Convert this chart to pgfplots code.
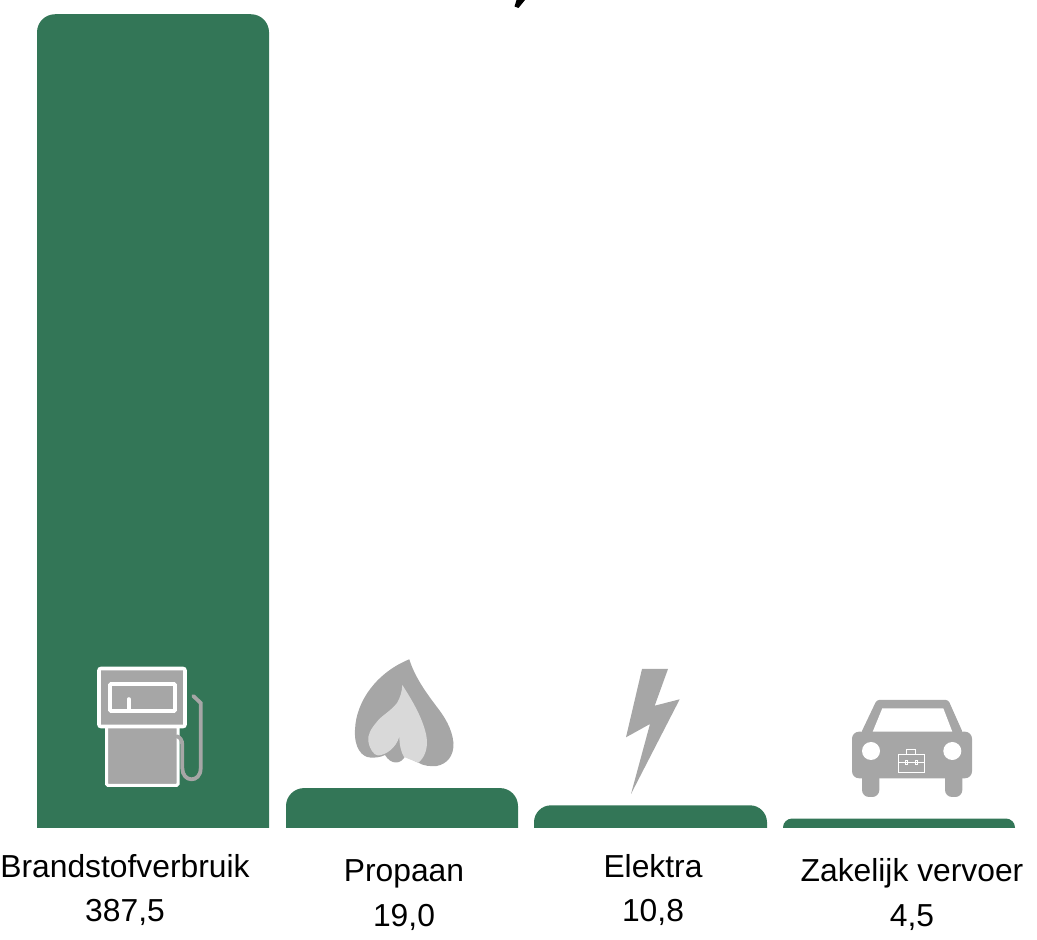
\documentclass[border=0pt]{standalone}
\usepackage{pgfplots}
\pgfplotsset{compat=1.18}
\usepackage{fontspec}
\setmainfont{Liberation Sans}
\definecolor{bargreen}{RGB}{51,118,87}
\definecolor{icongrey}{RGB}{166,166,166}
\definecolor{iconlight}{RGB}{217,217,217}
\begin{document}
\begin{tikzpicture}
\useasboundingbox (0,0) rectangle (1037pt,940pt);
\begin{axis}[
  at={(0pt,112pt)}, anchor=south west,
  scale only axis, width=1037pt, height=828pt,
  xmin=0, xmax=1037, ymin=0, ymax=394.2857,
  hide axis, clip=true]
\addplot[fill=bargreen, draw=none, rounded corners=18pt] coordinates {(37,-40) (37,387.5) (269,387.5) (269,-40)} --cycle;
\addplot[fill=bargreen, draw=none, rounded corners=18pt] coordinates {(286,-40) (286,19.0) (518,19.0) (518,-40)} --cycle;
\addplot[fill=bargreen, draw=none, rounded corners=17pt] coordinates {(534,-40) (534,10.8) (767,10.8) (767,-40)} --cycle;
\addplot[fill=bargreen, draw=none, rounded corners=9pt] coordinates {(783,-40) (783,4.5) (1015,4.5) (1015,-40)} --cycle;
\end{axis}
\begin{scope}[x=1pt,y=-1pt,yshift=940pt]
% title remnant
\fill[black] (516.5,0) -- (525,0) -- (518.5,8) -- (514.5,6.5) -- cycle;
% pump
\path[fill=icongrey,draw=white,line width=3pt,rounded corners=1.5pt] (106.5,726) rectangle (178,785.5);
\path[fill=icongrey,draw=white,line width=3.6pt,rounded corners=2pt] (99,668.5) rectangle (185,726.5);
\draw[white,line width=3.6pt,rounded corners=1pt] (110,684) rectangle (175,711);
\draw[white,line width=3.6pt,line cap=round] (128.7,699) -- (128.7,710);
\draw[icongrey,line width=3.8pt,line cap=round] (193.3,696) -- (200.7,703) -- (200.7,768)
  .. controls (200.7,776) and (196,779.3) .. (191.5,779.3)
  .. controls (186.5,779.3) and (182.3,775) .. (182.3,768) -- (182.3,745)
  .. controls (182.3,740) and (180,737) .. (176.7,736.3);
% flame
\fill[icongrey] (409.3,659.3) .. controls (378,672) and (356,700) .. (355,730)
  .. controls (354,748) and (362,757) .. (370,757.5)
  .. controls (376,758) and (381,757) .. (385,755)
  .. controls (388,760) and (392,762.5) .. (396,762.5)
  .. controls (400,762.5) and (403,760) .. (405,756.5)
  .. controls (409,758) and (414,761) .. (418.3,762.7)
  .. controls (424,766) and (430,766.5) .. (436.7,766)
  .. controls (447,764) and (454,756) .. (453.5,743)
  .. controls (452,728) and (444,716) .. (436.7,706.7)
  .. controls (428,695) and (415,678) .. (409.3,659.3) -- cycle;
\fill[iconlight] (402.3,685) .. controls (402,692) and (400,698) .. (397,703)
  .. controls (391,711) and (381,716) .. (376.7,722)
  .. controls (371,729) and (367,735) .. (368.5,742)
  .. controls (370,750) and (374,755) .. (378,755.5)
  .. controls (386,755) and (396,748) .. (399.3,736.7)
  .. controls (399.5,745) and (401,752) .. (404,757)
  .. controls (409,759) and (414,761) .. (418.3,762.7)
  .. controls (424,758) and (428,750) .. (426.7,738)
  .. controls (424,720) and (412,700) .. (402.3,685) -- cycle;
% bolt
\fill[icongrey] (642,669) -- (668,669) -- (654.7,705.7) -- (679.7,699.3) -- (631,794) -- (650,724) -- (626,737.3) -- cycle;
% car
\fill[icongrey,rounded corners=2.5pt] (861,733) -- (876.7,700) -- (948.3,700) -- (963,733) -- cycle;
\fill[icongrey,rounded corners=7pt] (852,731.7) rectangle (972,778.3);
\fill[icongrey,rounded corners=7pt] (862,770) rectangle (879.3,797);
\fill[icongrey,rounded corners=7pt] (945,770) rectangle (962.3,797);
\fill[white] (872.7,731.7) -- (882.3,708.3) -- (943.3,708.3) -- (952.3,731.7) -- cycle;
\fill[white] (871,751) circle (9);
\fill[white] (952.3,751) circle (9);
\draw[white,line width=0.9pt] (898.5,754) rectangle (924,772.5);
\draw[white,line width=0.9pt] (906.7,754) rectangle (915.3,749.2);
\draw[white,line width=0.9pt] (898.5,762.3) -- (924,762.3);
\draw[white,line width=0.9pt] (905.5,760) rectangle (907.5,764.5);
\draw[white,line width=0.9pt] (915,760) rectangle (917,764.5);
% labels
\def\lab#1#2#3{\node[anchor=base,inner sep=0pt,font=\fontsize{31.8}{36}\selectfont] at (#1,#2) {#3};}
\lab{125}{877.4}{Brandstofverbruik}
\lab{125}{922}{387,5}
\lab{404}{881.6}{Propaan}
\lab{404}{926.4}{19,0}
\lab{653}{877.4}{Elektra}
\lab{653}{922}{10,8}
\lab{912}{881.8}{Zakelijk vervoer}
\lab{912}{926.4}{4,5}
\end{scope}
\end{tikzpicture}
\end{document}
